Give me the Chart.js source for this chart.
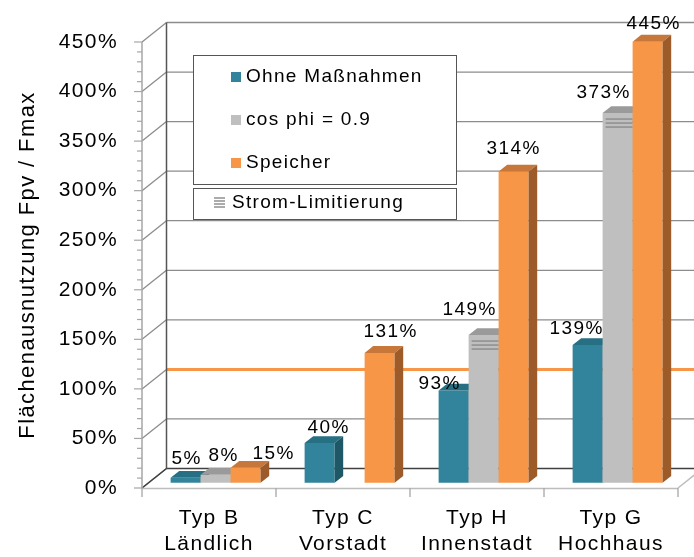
<!DOCTYPE html>
<html>
<head>
<meta charset="utf-8">
<script src="https://cdn.jsdelivr.net/npm/chart.js@4"></script>
<style>
  body { margin: 0; background: #fff; }
  #wrap { width: 694px; height: 557px; position: relative; }
</style>
</head>
<body>
<div id="wrap"><canvas id="flaechenChart"></canvas></div>
<script>
const categories = [["Typ B", "Ländlich"], ["Typ C", "Vorstadt"], ["Typ H", "Innenstadt"], ["Typ G", "Hochhaus"]];
const seriesNames = ["Ohne Maßnahmen", "cos phi = 0.9", "Speicher"];
const ohneMassnahmen = [5, 40, 93, 139];
const cosPhi = [8, null, 149, 373];
const speicher = [15, 131, 314, 445];
// which cos-phi bars hit the current limit (striped cap)
const stromLimitierung = [false, false, true, true];
const grenzwert = 100;
const yMax = 450;
const yStep = 50;

// label nudges per series / category
const labelDx = [[1, 9, -14, -11], [8, 0, -14, -14], [28, 11, 0, 6]];
const labelDy = [[-19, -15, -7, -16], [-19, 0, -25, -20], [-14, -21, -23, -18]];

const FONT = "'Liberation Sans', Arial, sans-serif";
const colors = [
  { front: "#31849B", top: "#276F82", side: "#1E5766" },
  { front: "#BFBFBF", top: "#9A9A9A", side: "#8E8E8E" },
  { front: "#F79646", top: "#C8773A", side: "#9C5B29" }
];

// depth of the floor: front edge -> back wall
const DX = 24.5, DY = -19.5;
const BAR_FRONT = 0.27, BAR_BACK = 0.62;

function line(ctx, x1, y1, x2, y2, color, w) {
  ctx.beginPath();
  ctx.moveTo(x1, y1);
  ctx.lineTo(x2, y2);
  ctx.strokeStyle = color;
  ctx.lineWidth = w || 1;
  ctx.stroke();
}

function poly(ctx, pts, color) {
  ctx.beginPath();
  ctx.moveTo(pts[0][0], pts[0][1]);
  for (let i = 1; i < pts.length; i++) ctx.lineTo(pts[i][0], pts[i][1]);
  ctx.closePath();
  ctx.fillStyle = color;
  ctx.fill();
}

const walls3d = {
  id: "walls3d",
  beforeDraw(chart) {
    chart.ctx.letterSpacing = "1.4px";
  },
  beforeDatasetsDraw(chart) {
    const ctx = chart.ctx;
    const xs = chart.scales.x, ys = chart.scales.y;
    const L = xs.left, R = xs.right, B = ys.bottom;
    ctx.save();

    for (let v = 0; v <= yMax; v += yStep) {
      const y = ys.getPixelForValue(v);
      if (v > 0 && v !== grenzwert) line(ctx, L + DX, y + DY, R + DX, y + DY, "#8c8c8c", 1.3);
      line(ctx, L, y, L + DX, y + DY, "#8c8c8c", 1.3);
    }
    // limit line on the back wall
    const yg = ys.getPixelForValue(grenzwert) + DY;
    line(ctx, L + DX, yg, R + DX, yg, "#F79646", 3);

    // back wall edges and floor
    line(ctx, L + DX, B + DY, L + DX, ys.top + DY, "#555", 1.5);
    line(ctx, L + DX, B + DY, R + DX, B + DY, "#404040", 1.5);
    line(ctx, L, B, L + DX, B + DY, "#404040", 1.5);
    line(ctx, L, B + 0.5, R, B + 0.5, "#bdbdbd", 1.5);
    line(ctx, R, B, R + DX, B + DY, "#bdbdbd", 1.5);
    const cw = (R - L) / categories.length;
    for (let i = 0; i <= categories.length; i++) {
      line(ctx, L + i * cw, B, L + i * cw, B + 9, "#a6a6a6", 1.3);
    }

    // front value axis with minor ticks
    line(ctx, L, B, L, ys.top, "#a6a6a6", 1.5);
    for (let v = 0; v <= yMax; v += 10) {
      const y = ys.getPixelForValue(v);
      line(ctx, L - (v % yStep === 0 ? 8 : 5), y, L, y, "#a6a6a6", 1.2);
    }
    ctx.restore();
  },
  afterDatasetsDraw(chart) {
    const ctx = chart.ctx;
    const sx = BAR_FRONT * DX, sy = BAR_FRONT * DY;
    const dx = (BAR_BACK - BAR_FRONT) * DX, dy = (BAR_BACK - BAR_FRONT) * DY;
    ctx.save();
    for (let i = 0; i < categories.length; i++) {
      chart.data.datasets.forEach((ds, s) => {
        if (ds.data[i] == null) return;
        const el = chart.getDatasetMeta(s).data[i];
        const x0 = el.x - el.width / 2 + sx, x1 = x0 + el.width;
        const yt = el.y + sy, yb = el.base + sy;
        const c = colors[s];
        poly(ctx, [[x0, yt], [x1, yt], [x1, yb], [x0, yb]], c.front);
        poly(ctx, [[x0, yt], [x1, yt], [x1 + dx, yt + dy], [x0 + dx, yt + dy]], c.top);
        poly(ctx, [[x1, yt], [x1 + dx, yt + dy], [x1 + dx, yb + dy], [x1, yb]], c.side);
        if (s === 1 && stromLimitierung[i]) {
          [6, 10, 14].forEach(o => line(ctx, x0 + 3, yt + o, x1, yt + o, "#8f8f8f", 1.5));
        }
      });
    }

    // value labels
    ctx.font = "19px " + FONT;
    ctx.fillStyle = "#000";
    ctx.textAlign = "center";
    ctx.textBaseline = "middle";
    chart.data.datasets.forEach((ds, s) => {
      ds.data.forEach((v, i) => {
        if (v == null) return;
        const el = chart.getDatasetMeta(s).data[i];
        ctx.fillText(v + "%", el.x + sx + labelDx[s][i], el.y + sy + labelDy[s][i]);
      });
    });
    ctx.restore();
  },
  afterDraw(chart) {
    const ctx = chart.ctx;
    ctx.save();
    ctx.fillStyle = "#fff";
    ctx.strokeStyle = "#555";
    ctx.lineWidth = 1;
    ctx.fillRect(193.5, 55.5, 263, 129);
    ctx.strokeRect(193.5, 55.5, 263, 129);
    ctx.fillRect(193.5, 188.5, 263, 31);
    ctx.strokeRect(193.5, 188.5, 263, 31);

    ctx.font = "19px " + FONT;
    ctx.letterSpacing = "1.3px";
    ctx.textBaseline = "middle";
    ctx.textAlign = "left";
    [77, 120, 163].forEach((y, s) => {
      ctx.fillStyle = colors[s].front;
      ctx.fillRect(231, y - 5, 10, 10);
      ctx.fillStyle = "#000";
      ctx.fillText(seriesNames[s], 246, y);
    });
    for (let k = 0; k < 4; k++) line(ctx, 214, 198 + k * 3, 225, 198 + k * 3, "#8f8f8f", 1.5);
    ctx.fillStyle = "#000";
    ctx.fillText("Strom-Limitierung", 232, 203);
    ctx.restore();
  }
};

new Chart(document.getElementById("flaechenChart"), {
  type: "bar",
  data: {
    labels: categories,
    datasets: [
      { label: seriesNames[0], data: ohneMassnahmen, backgroundColor: "rgba(0,0,0,0)" },
      { label: seriesNames[1], data: cosPhi, backgroundColor: "rgba(0,0,0,0)" },
      { label: seriesNames[2], data: speicher, backgroundColor: "rgba(0,0,0,0)" }
    ]
  },
  options: {
    responsive: true,
    maintainAspectRatio: false,
    animation: false,
    layout: { padding: { top: 42, right: 16, left: 0, bottom: 0 } },
    datasets: { bar: { categoryPercentage: 90 / 134, barPercentage: 1 } },
    plugins: {
      legend: { display: false },
      tooltip: { enabled: false }
    },
    scales: {
      x: {
        grid: { display: false, drawTicks: false },
        border: { display: false },
        ticks: {
          padding: 17,
          color: "#000",
          maxRotation: 0,
          autoSkip: false,
          font: { family: FONT, size: 21, lineHeight: 1.24 }
        },
        afterFit: s => { s.height = 557 - 488; }
      },
      y: {
        min: 0,
        max: yMax,
        grid: { display: false, drawTicks: false },
        border: { display: false },
        ticks: {
          stepSize: yStep,
          padding: 24,
          color: "#000",
          font: { family: FONT, size: 21 },
          callback: v => v + "%"
        },
        title: {
          display: true,
          text: "Flächenausnutzung Fpv / Fmax",
          color: "#000",
          font: { family: FONT, size: 22 },
          padding: { top: 15, bottom: 0 }
        },
        afterFit: s => { s.width = 142; }
      }
    }
  },
  plugins: [walls3d]
});
</script>
</body>
</html>
